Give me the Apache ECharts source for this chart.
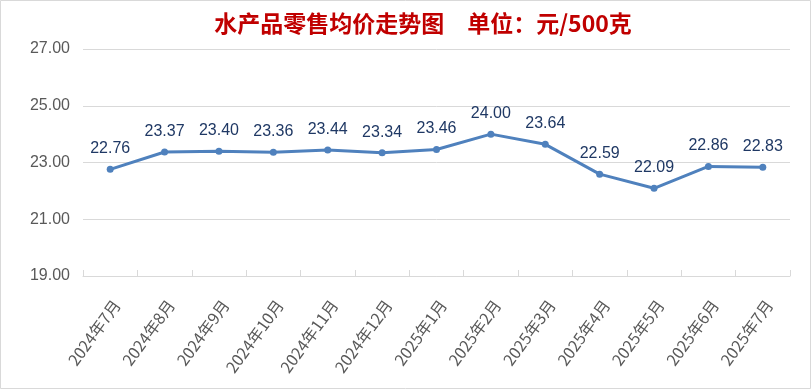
<!DOCTYPE html>
<html>
<head>
<meta charset="utf-8">
<script src="https://cdn.jsdelivr.net/npm/echarts@6/dist/echarts.min.js"></script>
<style>html,body{margin:0;padding:0;background:#fff;}#c{width:811px;height:389px;}</style>
</head>
<body>
<div id="c"></div>
<script>
const titleText = '水产品零售均价走势图　单位：元/500克';
const categories = ['2024年7月','2024年8月','2024年9月','2024年10月','2024年11月','2024年12月','2025年1月','2025年2月','2025年3月','2025年4月','2025年5月','2025年6月','2025年7月'];
const prices = [22.76, 23.37, 23.40, 23.36, 23.44, 23.34, 23.46, 24.00, 23.64, 22.59, 22.09, 22.86, 22.83];
const yMin = 19, yMax = 27, yStep = 2;

const chart = echarts.init(document.getElementById('c'));
chart.setOption({
  animation: false,
  backgroundColor: '#fff',
  title: {
    text: titleText,
    left: 418, top: 7, textAlign: 'center',
    textStyle: { color: '#C00000', fontSize: 23, fontWeight: 'bold', fontFamily: 'Noto Sans CJK SC' }
  },
  graphic: [{
    type: 'rect', shape: { x: 0.5, y: 0.5, width: 810, height: 388 },
    style: { fill: 'none', stroke: '#d9d9d9', lineWidth: 1 }, silent: true
  }],
  grid: { left: 83, right: 21, top: 49, bottom: 113, containLabel: false },
  xAxis: {
    type: 'category', data: categories, boundaryGap: true,
    axisLine: { lineStyle: { color: '#d9d9d9', width: 1 } },
    axisTick: { show: true, inside: true, length: 6, lineStyle: { color: '#d9d9d9' } },
    axisLabel: { rotate: 54, margin: 21, verticalAlign: 'top', color: '#595959', fontSize: 16, fontFamily: 'Noto Sans CJK SC', interval: 0 }
  },
  yAxis: {
    type: 'value', min: yMin, max: yMax, interval: yStep,
    axisLine: { show: false }, axisTick: { show: false },
    splitLine: { lineStyle: { color: '#d9d9d9', width: 1 } },
    axisLabel: { color: '#595959', fontSize: 16, margin: 13, fontFamily: 'Liberation Sans', formatter: v => v.toFixed(2) }
  },
  series: [{
    type: 'line', data: prices,
    lineStyle: { color: '#4F81BD', width: 3 },
    itemStyle: { color: '#4F81BD' },
    symbol: 'circle', symbolSize: 7,
    label: { show: true, position: 'top', distance: 9, color: '#1F3864', fontSize: 16, fontFamily: 'Liberation Sans', formatter: p => p.value.toFixed(2) }
  }]
});
</script>
</body>
</html>
